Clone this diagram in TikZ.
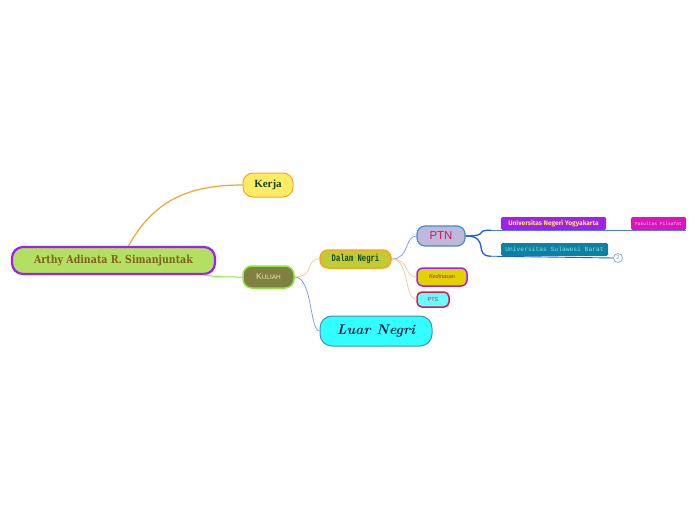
\documentclass[tikz,border=0pt]{standalone}
\usepackage{fontspec}
\newfontfamily\slabfont{DejaVu Serif}
\newfontfamily\timesfont{Liberation Serif}
\newfontfamily\monofont{Liberation Mono}
\newfontfamily\firafont{Fira Sans}
\newfontfamily\sansfont{Liberation Sans}
\definecolor{rootfill}{RGB}{178,224,96}
\definecolor{purp}{RGB}{160,32,240}
\definecolor{roottext}{RGB}{135,95,35}
\definecolor{orangeline}{RGB}{245,166,35}
\definecolor{kerjafill}{RGB}{255,236,100}
\definecolor{darkgreen}{RGB}{20,70,40}
\definecolor{olive}{RGB}{128,128,64}
\definecolor{brightgreen}{RGB}{140,230,60}
\definecolor{paleyellow}{RGB}{240,232,180}
\definecolor{dalamfill}{RGB}{192,204,50}
\definecolor{lavender}{RGB}{190,185,220}
\definecolor{midblue}{RGB}{70,140,200}
\definecolor{crimson}{RGB}{220,20,80}
\definecolor{kedfill}{RGB}{225,210,0}
\definecolor{kedtext}{RGB}{140,40,160}
\definecolor{ptsfill}{RGB}{100,255,255}
\definecolor{luarfill}{RGB}{50,255,255}
\definecolor{navy}{RGB}{20,30,70}
\definecolor{unytext}{RGB}{255,230,80}
\definecolor{usbfill}{RGB}{16,128,160}
\definecolor{usbtext}{RGB}{110,230,240}
\definecolor{fakfill}{RGB}{220,20,190}
\definecolor{faktext}{RGB}{255,200,240}
\definecolor{strongblue}{RGB}{30,90,230}
\definecolor{lightblue}{RGB}{120,150,240}
\definecolor{lightorange}{RGB}{250,200,140}
\tikzset{
  topic/.style={rounded corners=#1, inner sep=0pt, align=center},
  leaf/.style={rounded corners=1.5pt, inner sep=0pt, minimum height=13pt},
  conn/.style={line width=0.7pt},
}
\begin{document}
\begin{tikzpicture}[x=1pt,y=-1pt]
\fill[white] (0,0) rectangle (696,520);
\useasboundingbox (0,0) rectangle (696,520);

\node[topic=11pt, fill=rootfill, draw=purp, line width=2.2pt, minimum width=203pt, minimum height=27pt, text=roottext]
  (root) at (113.5,260.5) {\slabfont\bfseries\fontsize{11}{11}\selectfont\scalebox{0.86}[1]{Arthy Adinata R. Simanjuntak}};
\node[topic=10pt, fill=kerjafill, draw=orangeline, line width=1pt, minimum width=50pt, minimum height=24pt, text=darkgreen]
  (kerja) at (268,185) {\timesfont\bfseries\fontsize{11}{11}\selectfont Kerja};
\node[topic=9pt, fill=olive, draw=brightgreen, line width=1.5pt, minimum width=51pt, minimum height=22pt, text=paleyellow]
  (kuliah) at (268.5,277) {\sansfont{\fontsize{8.5}{8.5}\selectfont K}{\fontsize{6.5}{6.5}\selectfont ULIAH}};
\node[topic=8pt, fill=dalamfill, draw=orangeline, line width=1.5pt, minimum width=71pt, minimum height=18pt, text=darkgreen]
  (dalam) at (355.5,259) {\monofont\bfseries\fontsize{10}{10}\selectfont\scalebox{0.72}[1]{Dalam Negri}};
\node[topic=8pt, fill=lavender, draw=midblue, line width=1.2pt, minimum width=48pt, minimum height=20pt, text=crimson]
  (ptn) at (441,236) {\sansfont\fontsize{11.5}{11.5}\selectfont PTN};
\node[topic=6pt, fill=kedfill, draw=purp, line width=1.5pt, minimum width=50pt, minimum height=18pt, text=kedtext]
  (ked) at (442,277) {\sansfont\itshape\fontsize{5.5}{5.5}\selectfont Kedinasan};
\node[topic=5pt, fill=ptsfill, draw=crimson, line width=1.5pt, minimum width=32pt, minimum height=15pt, text=crimson]
  (pts) at (433,299.5) {\sansfont\fontsize{5.5}{5.5}\selectfont PTS};
\node[topic=12pt, fill=luarfill, draw=midblue, line width=1pt, minimum width=112pt, minimum height=30pt, text=navy]
  (luar) at (376,331) {\bfseries\itshape\fontsize{14}{14}\selectfont Luar Negri};
\node[leaf, fill=purp, minimum width=105pt, text=unytext]
  (uny) at (553.5,223.5) {\firafont\bfseries\fontsize{6.6}{6.6}\selectfont Universitas Negeri Yogyakarta};
\node[leaf, fill=fakfill, minimum width=55pt, text=faktext]
  (fak) at (658.5,223.5) {\monofont\fontsize{4.6}{4.6}\selectfont Fakultas Filsafat};
\node[leaf, fill=usbfill, minimum width=107pt, text=usbtext]
  (usb) at (554.5,249.5) {\monofont\fontsize{6.3}{6.3}\selectfont Universitas Sulawesi Barat};
\node[circle, draw=lightblue, fill=white, line width=0.6pt, minimum size=9pt, inner sep=0pt, text=lightblue]
  (cnt) at (618,258) {\sansfont\fontsize{5.5}{5.5}\selectfont 2};

% connectors
\draw[orangeline, line width=1.2pt] ([xshift=15pt]root.north) .. controls +(25,-45) and +(-55,0) .. (kerja.west);
\draw[brightgreen, line width=1pt] ([xshift=-12pt]root.south east) .. controls +(15,2) and +(-15,0) .. (kuliah.west);
\draw[lightorange, conn] (kuliah.east) .. controls +(20,0) and +(-14,0) .. (dalam.west);
\draw[lightblue, conn] (kuliah.east) .. controls +(18,0) and +(-10,0) .. (luar.west);
\draw[lightblue, conn] (dalam.east) .. controls +(18,0) and +(-12,0) .. (ptn.west);
\draw[lightorange, conn] (dalam.east) .. controls +(18,0) and +(-12,0) .. (ked.west);
\draw[lightorange, conn] (dalam.east) .. controls +(18,0) and +(-12,0) .. (pts.west);
\draw[strongblue, line width=1.3pt] (ptn.east) .. controls +(25,0) and +(-18,0) .. ([xshift=-10pt]uny.south west);
\draw[strongblue, line width=1.3pt] (ptn.east) .. controls +(25,0) and +(-18,0) .. ([xshift=-10pt]usb.south west);
\draw[strongblue!80, line width=0.9pt] ([xshift=-10pt]uny.south west) -- (fak.south east);
\draw[strongblue, line width=0.9pt] ([xshift=-10pt]usb.south west) -- (cnt.west);
\end{tikzpicture}
\end{document}
